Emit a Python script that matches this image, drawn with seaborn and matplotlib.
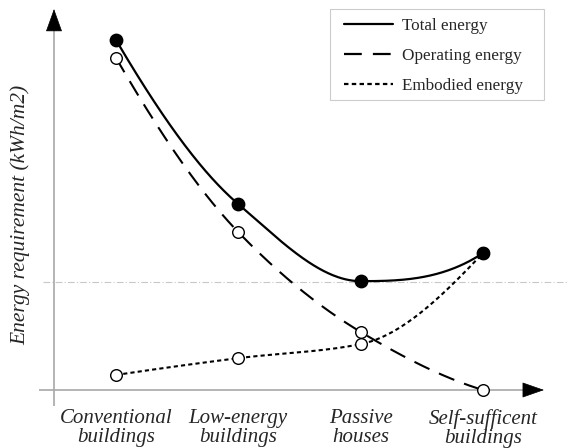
import numpy as np
import pandas as pd
import matplotlib
matplotlib.use("Agg")
import matplotlib.pyplot as plt
import seaborn as sns
from matplotlib.lines import Line2D
from matplotlib.patches import Rectangle

categories = ["Conventional\nbuildings", "Low-energy\nbuildings", "Passive\nhouses", "Self-sufficent\nbuildings"]
total_energy = [100.0, 53.1, 31.1, 39.1]
operating_energy = [94.9, 45.1, 16.6, 0.0]
embodied_energy = [4.3, 9.1, 13.1, 39.1]
reference_level = 31.0

sns.set_theme(style="white")
plt.rcParams["font.family"] = ["Liberation Serif", "DejaVu Serif"]


def pchip(x, y, xs):
    x = np.asarray(x, float); y = np.asarray(y, float)
    h = np.diff(x)
    d = np.diff(y) / h
    n = len(x)
    m = np.zeros(n)
    for k in range(1, n - 1):
        if d[k - 1] * d[k] <= 0:
            m[k] = 0
        else:
            w1 = 2 * h[k] + h[k - 1]
            w2 = h[k] + 2 * h[k - 1]
            m[k] = (w1 + w2) / (w1 / d[k - 1] + w2 / d[k])

    def end(h0, h1, d0, d1):
        v = ((2 * h0 + h1) * d0 - h0 * d1) / (h0 + h1)
        if np.sign(v) != np.sign(d0):
            v = 0
        elif np.sign(d0) != np.sign(d1) and abs(v) > abs(3 * d0):
            v = 3 * d0
        return v
    m[0] = end(h[0], h[1], d[0], d[1])
    m[-1] = end(h[-1], h[-2], d[-1], d[-2])
    out = np.empty_like(xs)
    for j, t in enumerate(xs):
        i = min(max(np.searchsorted(x, t, side="right") - 1, 0), n - 2)
        s = (t - x[i]) / h[i]
        h00 = 2 * s**3 - 3 * s**2 + 1
        h10 = s**3 - 2 * s**2 + s
        h01 = -2 * s**3 + 3 * s**2
        h11 = s**3 - s**2
        out[j] = h00 * y[i] + h10 * h[i] * m[i] + h01 * y[i + 1] + h11 * h[i] * m[i + 1]
    return out


xi = np.arange(len(categories), dtype=float)
xs = np.linspace(0, len(categories) - 1, 300)

fig = plt.figure(figsize=(5.68, 4.48), dpi=100)
W, H = 568, 448
left_px, right_px, top_px, bot_px = 39, 568, 5, 406
ax = fig.add_axes([left_px / W, (H - bot_px) / H, (right_px - left_px) / W, (bot_px - top_px) / H])

sx = 122.3
xlim = ((left_px - 116) / sx, (right_px - 116) / sx)
ylim = ((390 - bot_px) / 3.5, (390 - top_px) / 3.5)
ax.set_xlim(*xlim)
ax.set_ylim(*ylim)
for s in ax.spines.values():
    s.set_visible(False)
ax.set_facecolor("none")

series = [
    ("Embodied energy", embodied_energy, (2, 1.5), "white"),
    ("Operating energy", operating_energy, (8, 5), "white"),
    ("Total energy", total_energy, (None, None), "black"),
]

ax.axhline(reference_level, xmin=(43 - left_px) / (right_px - left_px), xmax=1,
           color="#c8c8c8", lw=0.8, ls=(0, (6, 2, 1, 2)), zorder=1)

yaxis_x = (54 - 116) / sx
ax.plot([xlim[0], (527 - 116) / sx], [0, 0], color="#a8a8a8", lw=1.2, zorder=1)
ax.plot([yaxis_x, yaxis_x], [ylim[0], (390 - 27) / 3.5], color="#a8a8a8", lw=1.2, zorder=1)
ax.annotate("", xy=((544 - 116) / sx, 0), xytext=((528 - 116) / sx, 0),
            arrowprops=dict(arrowstyle="-|>,head_length=1.2,head_width=0.42",
                            color="black", lw=0.5, shrinkA=0, shrinkB=0))
ax.annotate("", xy=(yaxis_x, (390 - 9) / 3.5), xytext=(yaxis_x, (390 - 26) / 3.5),
            arrowprops=dict(arrowstyle="-|>,head_length=1.25,head_width=0.45",
                            color="black", lw=0.5, shrinkA=0, shrinkB=0))

handles = {}
for z, (name, vals, dash, face) in enumerate(series):
    ys = pchip(xi, vals, xs)
    df = pd.DataFrame({"x": xs, "y": ys})
    sns.lineplot(data=df, x="x", y="y", ax=ax, color="black", lw=1.6 if dash[0] is None else 1.5,
                 estimator=None, sort=False, zorder=3 + z)
    line = ax.lines[-1]
    if dash[0] is not None:
        line.set_dashes(dash)
    pts = pd.DataFrame({"x": xi, "y": vals})
    sns.scatterplot(data=pts, x="x", y="y", ax=ax, s=80 if face == "black" else 70,
                    color=face, edgecolor="black", linewidth=1.0, zorder=10 + z)
    h = Line2D([0], [0], color="black", lw=1.6)
    if dash[0] is not None:
        h.set_dashes(dash)
    handles[name] = h

ax.set_xticks(xi)
ax.set_xticklabels(categories, fontsize=15, style="italic", linespacing=1.05)
ax.tick_params(axis="x", length=0, pad=2)
ax.set_yticks([])
ax.set_xlabel("")
ax.set_ylabel("")
fig.text(20 / W, 1 - 215 / H, "Energy requirement (kWh/m2)", rotation=90, fontsize=15.5,
         style="italic", ha="center", va="center")

# legend frame drawn separately
fig.patches.append(Rectangle((330 / W, 1 - 100 / H), (544 - 330) / W, (100 - 9) / H,
                             transform=fig.transFigure, facecolor="white",
                             edgecolor="#cccccc", lw=0.8, zorder=20))
names = ["Total energy", "Operating energy", "Embodied energy"]
leg = fig.legend([handles[n] for n in names], names,
                 loc="upper left", bbox_to_anchor=(344 / W, 1 - 18 / H),
                 fontsize=12.3, frameon=False, handlelength=2.85,
                 borderpad=0, labelspacing=0.82, handletextpad=0.55, borderaxespad=0)
leg.set_zorder(21)

fig.savefig("out.png", dpi=100)
